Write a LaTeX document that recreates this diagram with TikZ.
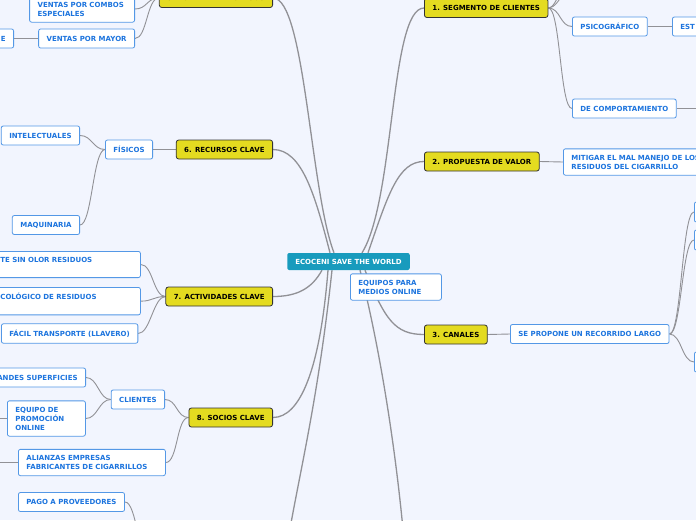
\documentclass[tikz,border=0pt]{standalone}
\usepackage{fontspec}
\setmainfont{DejaVu Sans}
\usetikzlibrary{positioning}
\definecolor{canvasbg}{RGB}{242,245,254}
\definecolor{coreteal}{RGB}{24,155,189}
\definecolor{topicyellow}{RGB}{228,219,32}
\definecolor{leafblue}{RGB}{28,116,222}
\definecolor{leafedge}{RGB}{84,152,230}
\definecolor{linkgray}{RGB}{145,145,150}
\pgfdeclarelayer{canvas}
\pgfdeclarelayer{links}
\pgfsetlayers{canvas,links,main}

\begin{document}
\begin{tikzpicture}[
      x=1pt, y=-1pt,
      every node/.style={font=\bfseries\fontsize{7}{9}\selectfont, inner xsep=8pt, inner ysep=6pt},
      core/.style={fill=coreteal, text=white, rounded corners=2pt, minimum height=17pt, inner ysep=4pt},
      topic/.style={fill=topicyellow, draw=black!80, line width=0.8pt, rounded corners=2.5pt, minimum height=19pt},
      leaf/.style={fill=white, draw=leafedge, line width=0.8pt, text=leafblue, rounded corners=2pt, minimum height=19pt},
      multi/.style={leaf, align=left, text width=#1},
      stub/.style={leaf, minimum width=30pt, minimum height=20pt},
      branch/.style={draw=linkgray, line width=1.3pt},
      twig/.style={draw=linkgray, line width=0.9pt}
    ]
    \useasboundingbox (0,0) rectangle (696,520);
    \begin{pgfonlayer}{canvas}
      \fill[canvasbg] (0,0) rectangle (696,520);
    \end{pgfonlayer}

    \node[core] (core) at (348.5,261.5) {ECOCENI SAVE THE WORLD};

    % main topics
    \node[topic, anchor=east] (fuente) at (273,-2) {5. FUENTE DE INGRESOS};
    \node[topic, anchor=west] (segmento) at (424,8) {1. SEGMENTO DE CLIENTES};
    \node[topic, anchor=west] (propuesta) at (424,161.5) {2. PROPUESTA DE VALOR};
    \node[topic, anchor=west] (canales) at (424,334.5) {3. CANALES};
    \node[topic, anchor=east] (recursos) at (273,149.5) {6. RECURSOS CLAVE};
    \node[topic, anchor=east] (actividades) at (273,296.5) {7. ACTIVIDADES CLAVE};
    \node[topic, anchor=east] (socios) at (273,417.5) {8. SOCIOS CLAVE};

    % right side leaves
    \node[leaf, anchor=west] (psico) at (572,26.5) {PSICOGRÁFICO};
    \node[multi=40pt, anchor=west] (estilo) at (672,26.5) {EST};
    \node[leaf, anchor=west] (comport) at (572,108.5) {DE COMPORTAMIENTO};
    \node[multi=150pt, anchor=west] (mitigar) at (563,162) {MITIGAR EL MAL MANEJO DE LOS\\RESIDUOS DEL CIGARRILLO};
    \node[multi=75pt, anchor=west] (equipos) at (350,287) {EQUIPOS PARA\\MEDIOS ONLINE};
    \node[leaf, anchor=west] (recorrido) at (510,334) {SE PROPONE UN RECORRIDO LARGO};
    \node[stub, anchor=west] (ruta1) at (694,212) {};
    \node[stub, anchor=west] (ruta2) at (694,240) {};
    \node[stub, anchor=west] (ruta3) at (694,362) {};

    % left side leaves
    \node[multi=89pt, anchor=east] (combos) at (135,9) {VENTAS POR COMBOS\\ESPECIALES};
    \node[leaf, anchor=east] (mayor) at (135,38.5) {VENTAS POR MAYOR};
    \node[leaf, anchor=east] (serie) at (14,38.5) {IE};
    \node[leaf, anchor=east] (fisicos) at (153,149.5) {FÍSICOS};
    \node[leaf, anchor=east] (intelect) at (80,135.5) {INTELECTUALES};
    \node[leaf, anchor=east] (maquinaria) at (80,225) {MAQUINARIA};
    \node[multi=132pt, anchor=north west] (olor) at (-8,251) {TE SIN OLOR RESIDUOS\\~};
    \node[multi=132pt, anchor=north west] (ecolog) at (-8,287) {COLÓGICO DE RESIDUOS\\~};
    \node[leaf, anchor=west] (llavero) at (1,333.5) {FÁCIL TRANSPORTE (LLAVERO)};
    \node[leaf, anchor=east] (clientes) at (165,399.5) {CLIENTES};
    \node[leaf, anchor=east] (grandes) at (86,377.5) {ANDES SUPERFICIES};
    \node[multi=62pt, anchor=west] (equipo) at (7,418.5) {EQUIPO DE\\PROMOCIÓN\\ONLINE};
    \node[multi=131pt, anchor=west] (alianzas) at (18,462.5) {ALIANZAS EMPRESAS\\FABRICANTES DE CIGARRILLOS};
    \node[leaf, anchor=west] (pago) at (18,502) {PAGO A PROVEEDORES};

    % ends of branches outside the frame
    \coordinate (seg_a) at (580,-24);
    \coordinate (seg_b) at (580,-48);
    \coordinate (comp_out) at (720,108.5);
    \coordinate (equipo_out) at (-30,418.5);
    \coordinate (alianza_out) at (-30,462.5);
    \coordinate (costes) at (150,560);
    \coordinate (low_left) at (288,540);
    \coordinate (low_right) at (404,540);

    \begin{pgfonlayer}{links}
      % branches from the centre
      \draw[branch] ([xshift=-14.5pt]core.north) .. controls (310,190) and (305,-2) .. (fuente.east);
      \draw[branch] ([xshift=13.5pt]core.north) .. controls (395,200) and (390,8) .. (segmento.west);
      \draw[branch] ([xshift=-18.5pt]core.north) .. controls (315,195) and (302,149.5) .. (recursos.west -| recursos.east);
      \draw[branch] ([xshift=19.5pt]core.north) .. controls (388,195) and (398,161.5) .. (propuesta.west);
      \draw[branch] ([xshift=-26.5pt]core.south) .. controls (312,288) and (298,296.5) .. (actividades.east);
      \draw[branch] ([xshift=-20.5pt]core.south) .. controls (320,370) and (300,417.5) .. (socios.east);
      \draw[branch] ([xshift=-16.5pt]core.south) .. controls (318,400) and (300,470) .. (low_left);
      \draw[branch] ([xshift=11.5pt]core.south) .. controls (378,340) and (395,440) .. (low_right);
      \draw[branch] ([xshift=16.5pt]core.south) .. controls (385,320) and (395,334.5) .. (canales.west);

      % right side twigs
      \draw[twig] (segmento.east) .. controls +(12,0) and +(-12,0) .. (seg_a);
      \draw[twig] (segmento.east) .. controls +(12,0) and +(-12,0) .. (seg_b);
      \draw[twig] (segmento.east) .. controls +(12,0) and +(-12,0) .. (psico.west);
      \draw[twig] (segmento.east) .. controls +(12,0) and +(-12,0) .. (comport.west);
      \draw[twig] (psico.east) -- (estilo.west);
      \draw[twig] (comport.east) -- (comp_out);
      \draw[twig] (propuesta.east) -- (mitigar.west);
      \draw[twig] (canales.east) -- (recorrido.west);
      \draw[twig] (recorrido.east) .. controls +(12,0) and +(-12,0) .. (ruta1.west);
      \draw[twig] (recorrido.east) .. controls +(12,0) and +(-12,0) .. (ruta2.west);
      \draw[twig] (recorrido.east) .. controls +(12,0) and +(-12,0) .. (ruta3.west);

      % left side twigs
      \draw[twig] (fuente.west) .. controls +(-12,0) and +(12,0) .. (combos.east);
      \draw[twig] (fuente.west) .. controls +(-12,0) and +(12,0) .. (mayor.east);
      \draw[twig] (mayor.west) -- (serie.east);
      \draw[twig] (recursos.west) -- (fisicos.east);
      \draw[twig] (fisicos.west) .. controls +(-12,0) and +(12,0) .. (intelect.east);
      \draw[twig] (fisicos.west) .. controls +(-12,0) and +(12,0) .. (maquinaria.east);
      \draw[twig] (actividades.west) .. controls +(-12,0) and +(12,0) .. (olor.east);
      \draw[twig] (actividades.west) .. controls +(-12,0) and +(12,0) .. (ecolog.east);
      \draw[twig] (actividades.west) .. controls +(-12,0) and +(12,0) .. (llavero.east);
      \draw[twig] (socios.west) .. controls +(-12,0) and +(12,0) .. (clientes.east);
      \draw[twig] (socios.west) .. controls +(-12,0) and +(12,0) .. (alianzas.east);
      \draw[twig] (clientes.west) .. controls +(-12,0) and +(12,0) .. (grandes.east);
      \draw[twig] (clientes.west) .. controls +(-12,0) and +(12,0) .. (equipo.east);
      \draw[twig] (equipo.west) -- (equipo_out);
      \draw[twig] (alianzas.west) -- (alianza_out);
      \draw[twig] (costes) .. controls +(-12,0) and +(12,0) .. (pago.east);
    \end{pgfonlayer}
  \end{tikzpicture}
\end{document}
